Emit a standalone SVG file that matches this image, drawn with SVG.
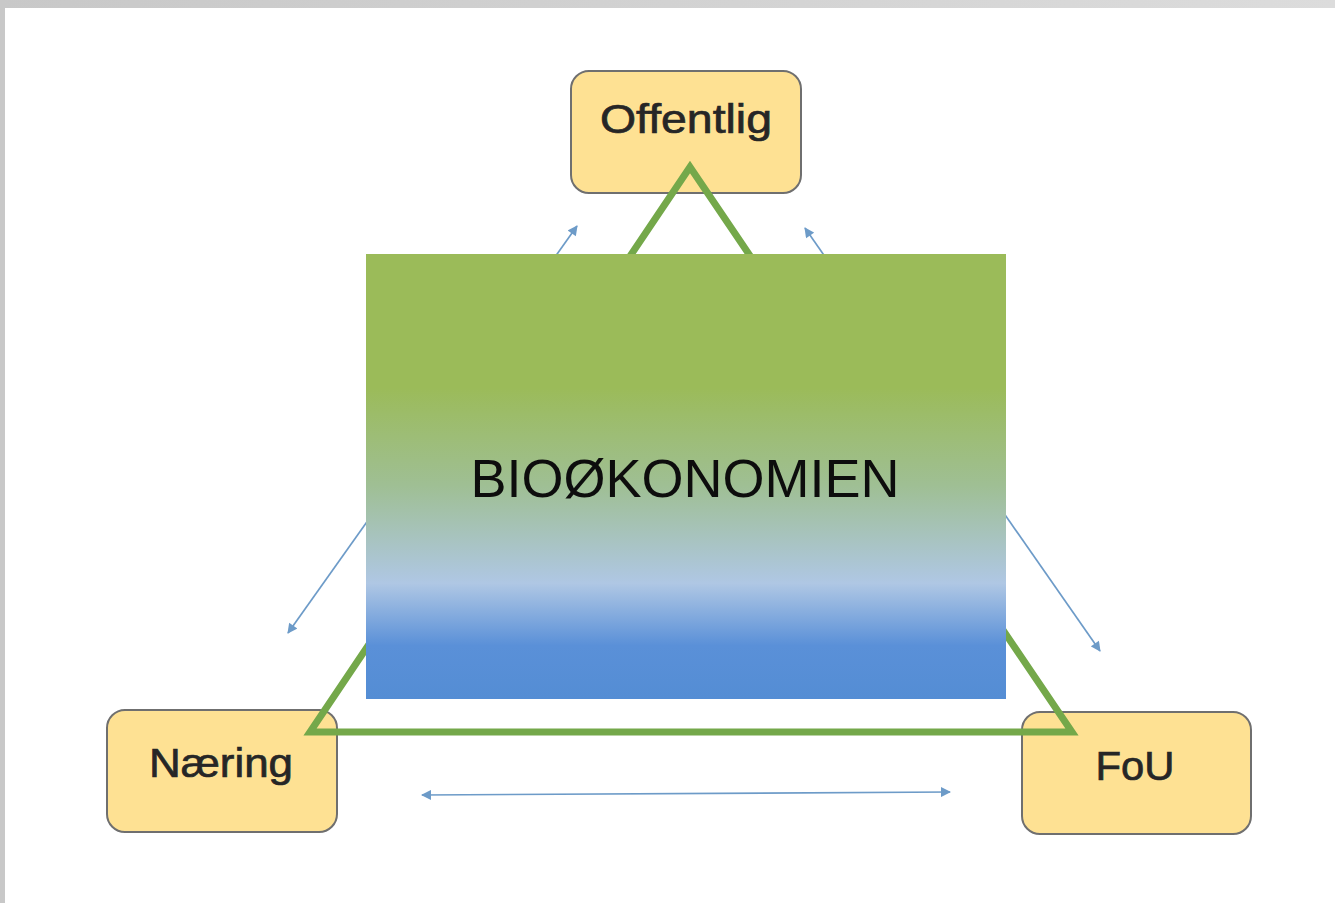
<svg xmlns="http://www.w3.org/2000/svg" width="1335" height="903" viewBox="0 0 1335 903">
<defs>
<style>
.box{fill:#fee193;stroke:#6f6f6f;stroke-width:2}
.lbl{font-family:"Liberation Sans",Arial,sans-serif;font-size:41px;fill:#262626;text-anchor:middle;stroke:#262626;stroke-width:0.7}
.arr{stroke:#6d9bc8;stroke-width:1.7;fill:none;marker-start:url(#ah);marker-end:url(#ah)}
</style>
<linearGradient id="topband" x1="0" y1="0" x2="1" y2="0">
<stop offset="0" stop-color="#c8c8c8"/><stop offset="1" stop-color="#dcdcdc"/>
</linearGradient>
<linearGradient id="bio" x1="0" y1="0" x2="0" y2="1">
<stop offset="0" stop-color="#9bbb59"/>
<stop offset="0.3" stop-color="#9bbb59"/>
<stop offset="0.52" stop-color="#9fbf94"/>
<stop offset="0.74" stop-color="#afc7e4"/>
<stop offset="0.88" stop-color="#5a90d8"/>
<stop offset="1" stop-color="#548dd4"/>
</linearGradient>
<marker id="ah" viewBox="0 0 10 10" refX="9" refY="5" markerWidth="11" markerHeight="10" orient="auto-start-reverse" markerUnits="userSpaceOnUse">
<path d="M0,0 L10,5 L0,10 z" fill="#6d9bc8"/>
</marker>
</defs>
<rect x="0" y="0" width="1335" height="903" fill="#ffffff"/>
<rect x="0" y="0" width="1335" height="8" fill="url(#topband)"/>
<rect x="0" y="0" width="5" height="903" fill="#c8c8c8"/>

<g id="connectors">
<line class="arr" x1="288" y1="633" x2="577" y2="226"/>
<line class="arr" x1="805" y1="228" x2="1100" y2="651"/>
<line class="arr" x1="422" y1="795" x2="950" y2="792"/>
</g>

<g id="offentlig">
<rect class="box" x="571" y="71" width="230" height="122" rx="18"/>
<text class="lbl" x="686" y="133" textLength="172" lengthAdjust="spacingAndGlyphs">Offentlig</text>
</g>
<g id="naering">
<rect class="box" x="107" y="710" width="230" height="122" rx="18"/>
<text class="lbl" x="221" y="777" textLength="144" lengthAdjust="spacingAndGlyphs">Næring</text>
</g>
<g id="fou">
<rect class="box" x="1022" y="712" width="229" height="122" rx="18"/>
<text class="lbl" x="1135" y="780" textLength="79" lengthAdjust="spacingAndGlyphs">FoU</text>
</g>

<g id="triangle">
<polygon points="690,167 310,732 1072,732" fill="none" stroke="#74a84a" stroke-width="7" stroke-linejoin="miter"/>
</g>

<g id="biookonomien">
<rect x="366" y="254" width="640" height="445" fill="url(#bio)"/>
<text x="685" y="497" font-family="Liberation Sans, Arial, sans-serif" font-size="54" fill="#0d0d0d" text-anchor="middle">BIOØKONOMIEN</text>
</g>
</svg>
